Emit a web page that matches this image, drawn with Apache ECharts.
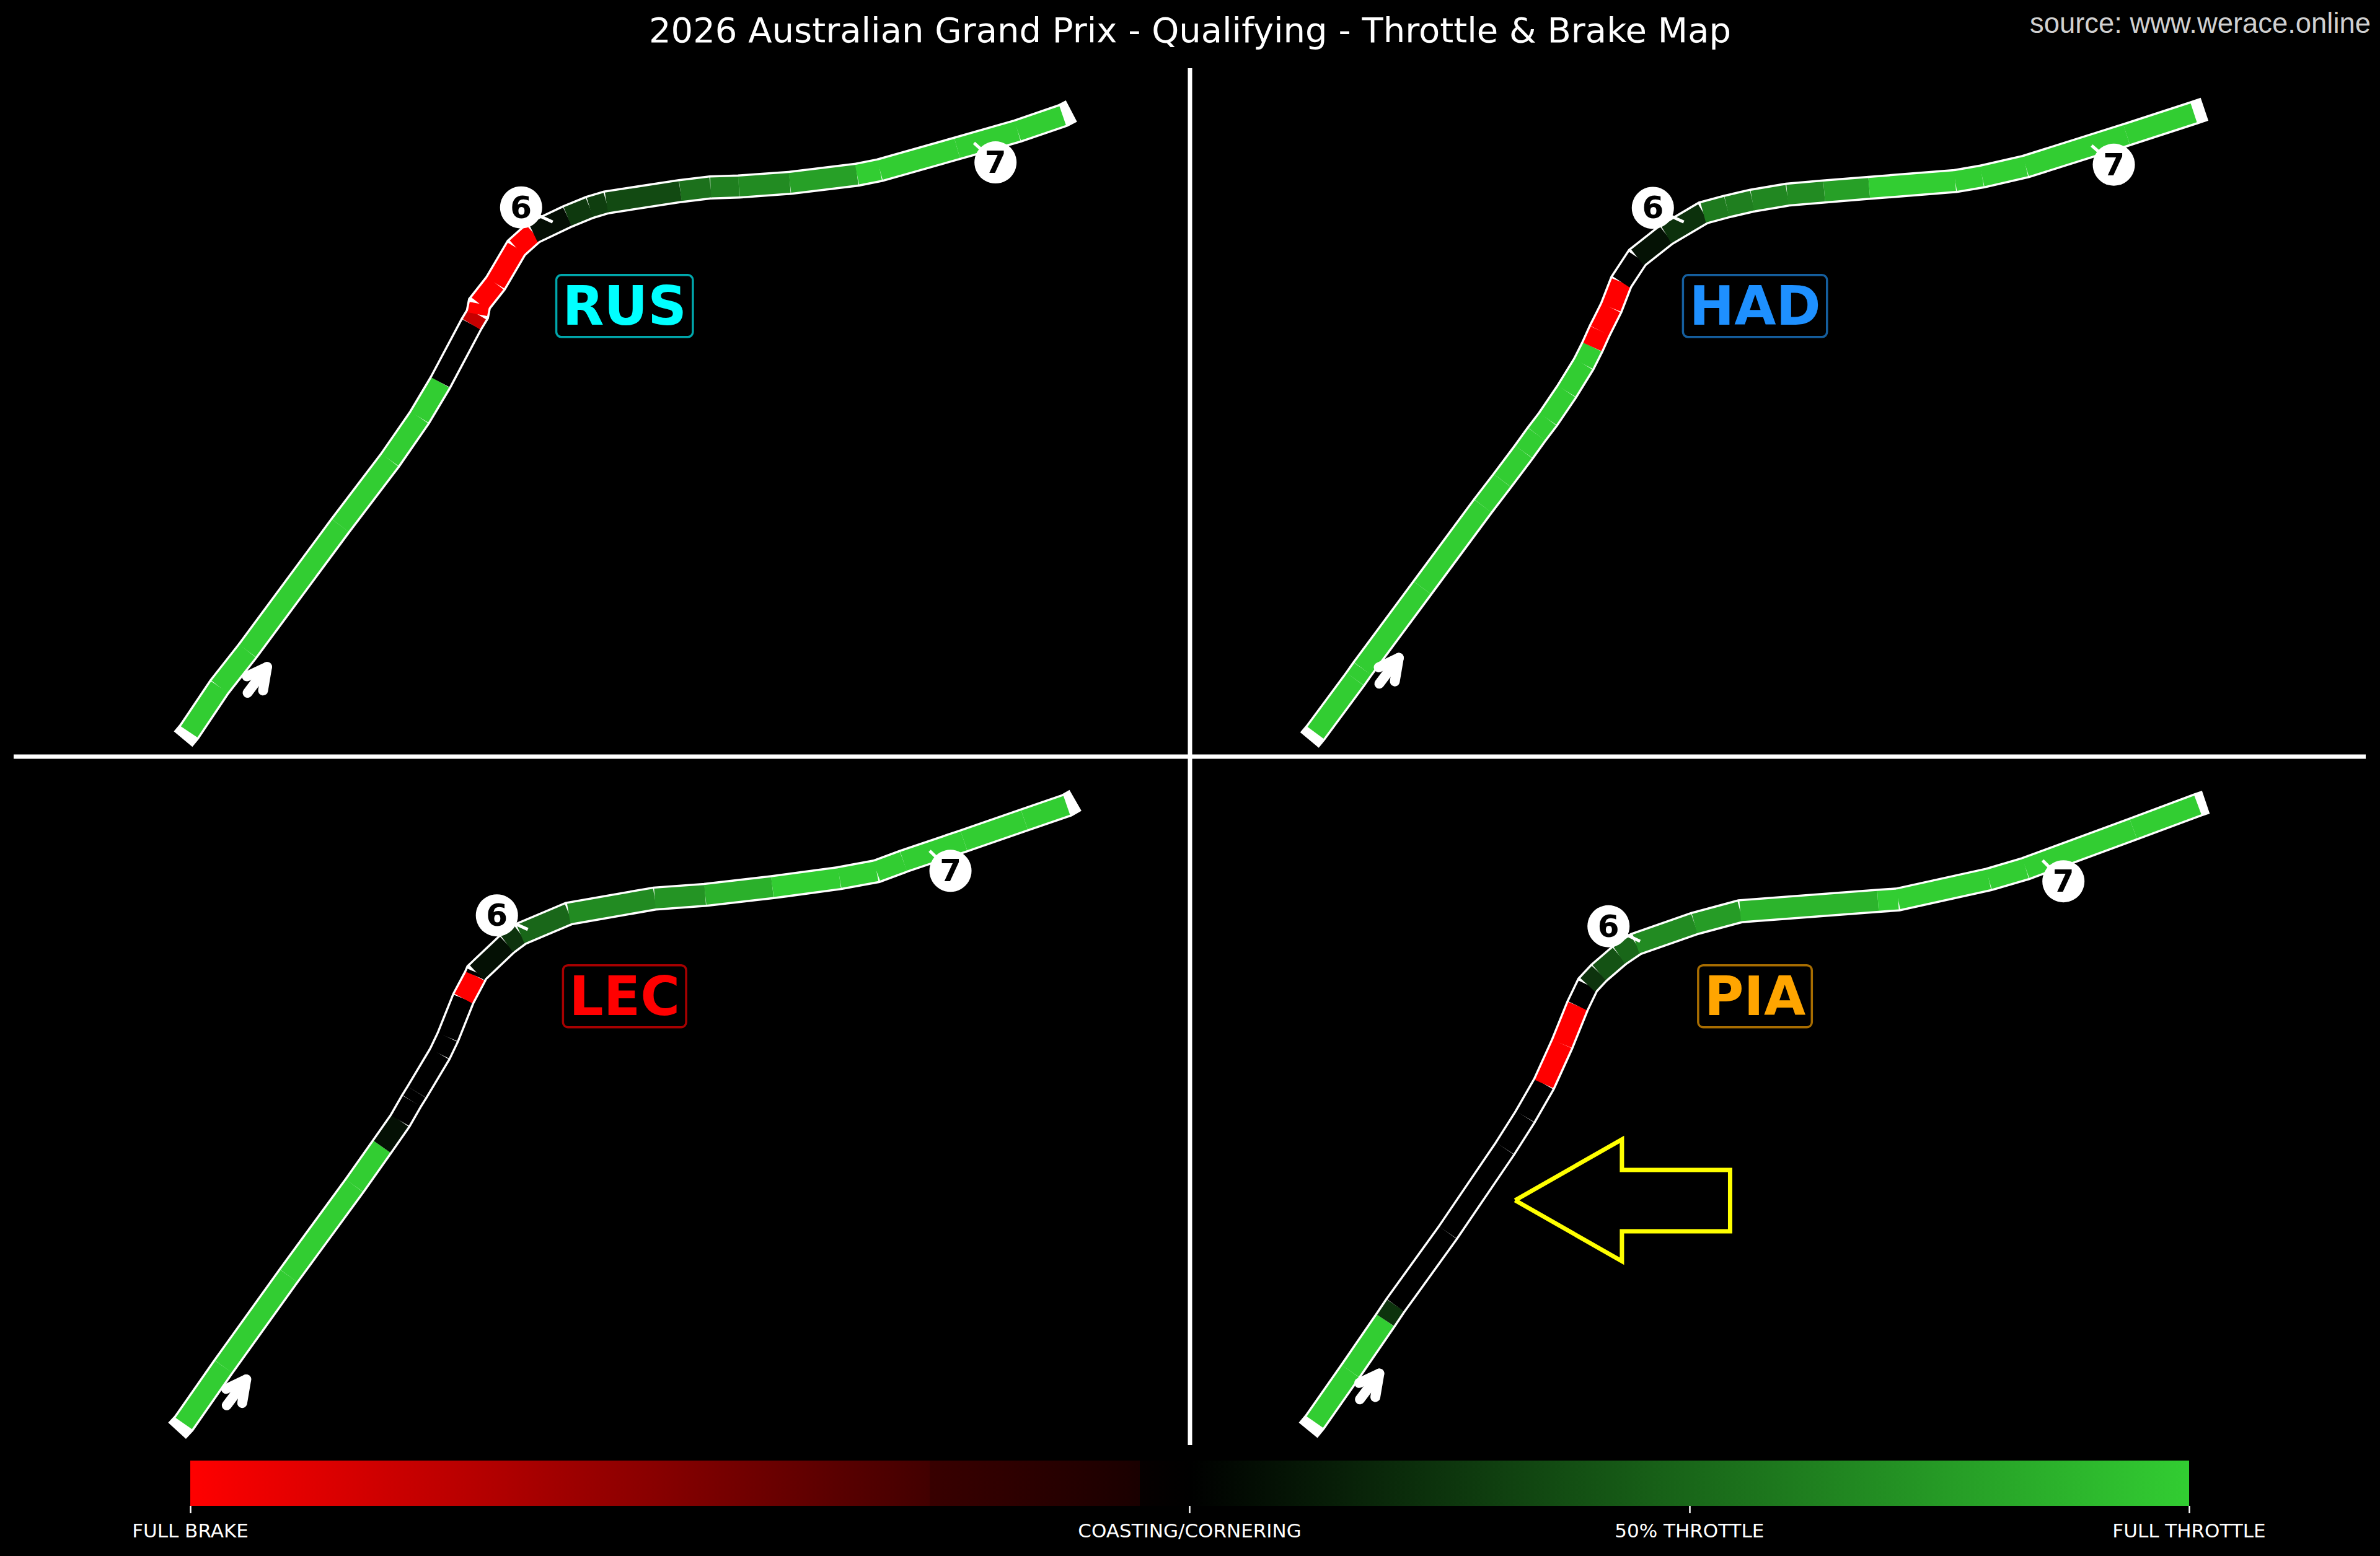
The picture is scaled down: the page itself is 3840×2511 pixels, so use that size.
<!DOCTYPE html>
<html>
<head>
<meta charset="utf-8">
<title>Throttle & Brake Map</title>
<script src="https://cdn.jsdelivr.net/npm/echarts@6/dist/echarts.min.js"></script>
<style>
  html, body { margin: 0; padding: 0; background: #000; }
  #chart { width: 3840px; height: 2511px; }
</style>
</head>
<body>
<div id="chart"></div>
<script>
var driverCodes = ['RUS', 'HAD', 'LEC', 'PIA'];
var driverColors = ['#00ffff', '#1e90ff', '#ff0000', '#ffa500'];
var driverBorders = ['#00a8ad', '#155f9f', '#a80000', '#a86d00'];

// track position, first and last points are the bare white ends
var rusTrack = [[88,1490],[97,1474],[142,1375],[184,1296],[322,1020],[396,876],[440,782],[471,705],[517,577],[526,555],[529,532],[553,487],[584,409],[609,376],[660,340],[693,320],[718,309],[828,284],[873,276],[915,274],[991,266],[1091,248],[1125,238],[1240,190],[1330,152],[1397,118],[1410,108]];
var hadTrack = [[104,1492],[113,1476],[172,1358],[183,1335],[272,1157],[362,977],[391,921],[423,858],[442,819],[459,786],[487,725],[512,665],[525,627],[536,591],[553,541],[568,484],[592,430],[635,380],[690,332],[725,318],[763,305],[815,292],[870,285],[937,277],[1065,262],[1105,252],[1170,230],[1320,160],[1420,112],[1436,104]];
var lecTrack = [[79,1471],[89,1455],[148,1330],[245,1130],[343,932],[384,846],[411,789],[428,745],[436,726],[470,642],[482,605],[505,520],[523,470],[525,463],[570,400],[590,378],[662,333],[790,300],[865,292],[965,275],[1065,255],[1120,240],[1160,218],[1250,173],[1340,127],[1403,95],[1416,84]];
var piaTrack = [[102,1470],[112,1452],[165,1340],[217,1228],[232,1195],[310,1035],[395,850],[425,780],[453,708],[480,620],[503,536],[518,490],[535,463],[565,425],[590,400],[677,355],[745,328],[950,305],[980,302],[1115,258],[1170,234],[1330,147],[1426,94],[1438,88]];

// pedal per stretch: +100 full throttle, 0 coasting, -100 full brake
var rusPedal = [null,100,100,100,100,100,100,0,-78,-100,-100,-100,-100,7,28,30,36,55,62,68,78,100,100,100,100,null];
var hadPedal = [null,100,100,100,100,100,100,100,100,100,100,100,-100,-100,-100,0,9,24,60,62,66,68,78,100,100,100,100,100,null];
var lecPedal = [null,100,100,100,100,8,0,0,0,0,0,-100,0,8,25,50,68,72,86,100,100,100,100,100,100,null];
var piaPedal = [null,100,100,25,0,0,0,0,-100,-100,0,25,40,50,68,76,88,100,100,100,100,100,null];

var turnNames = ['6', '7'];
var rusTurns = [[591,320],[1297,221]];
var hadTurns = [[615,321],[1301,226]];
var lecTurns = [[555,337],[1230,239]];
var piaTurns = [[549,361],[1226,262]];
var rusApex = [[638,352],[1265,178]];
var hadApex = [[661,352],[1268,184]];
var lecApex = [[601,368],[1199,195]];
var piaApex = [[596,394],[1195,216]];

var namePoints = [[745,537],[767,537],[745,515],[767,515]];

// direction arrows: shaft, then the barbs through the tip
var dirShafts = [
  [[184,1388],[213,1331]],
  [[208,1368],[237,1311]],
  [[153,1415],[182,1358]],
  [[179,1402],[208,1345]]
];
var dirBarbs = [
  [[183,1352],[213,1331],[207,1383]],
  [[207,1332],[237,1311],[231,1363]],
  [[152,1379],[182,1358],[176,1410]],
  [[178,1366],[208,1345],[202,1397]]
];

var liftArrow = [[410,964],[569,830],[569,897],[730,897],[730,1032],[569,1032],[569,1098],[410,964]];

var barTickValues = [-100, 0, 50, 100];
var barTickLabels = ['FULL BRAKE', 'COASTING/CORNERING', '50% THROTTLE', 'FULL THROTTLE'];

var tracks = [rusTrack, hadTrack, lecTrack, piaTrack];
var pedals = [rusPedal, hadPedal, lecPedal, piaPedal];
var turns = [rusTurns, hadTurns, lecTurns, piaTurns];
var apexes = [rusApex, hadApex, lecApex, piaApex];

var panelLeft = [200, 2000, 200, 2000];
var panelTop = [100, 100, 1230, 1230];

function pedalColor(v) {
  if (v < 0) {
    return 'rgb(' + Math.round(255 * -v / 100) + ',0,0)';
  }
  return 'rgb(' + Math.round(50 * v / 100) + ',' + Math.round(205 * v / 100) + ',' + Math.round(50 * v / 100) + ')';
}

var grids = [], xAxes = [], yAxes = [], series = [];

driverCodes.forEach(function(code, i) {
  grids.push({ left: panelLeft[i], top: panelTop[i], width: 1700, height: 1150 });
  xAxes.push({ type: 'value', gridIndex: i, min: 0, max: 1568, show: false });
  yAxes.push({ type: 'value', gridIndex: i, min: 0, max: 1568, inverse: true, show: false });
  var axisRef = { xAxisIndex: i, yAxisIndex: i, silent: true };

  // white outline
  series.push(Object.assign({}, axisRef, {
    type: 'line',
    data: tracks[i],
    showSymbol: false,
    clip: false,
    z: 2,
    lineStyle: { color: '#ffffff', width: 39, cap: 'butt', join: 'miter' }
  }));

  // pedal colours on top
  var stretches = [];
  pedals[i].forEach(function(v, k) {
    if (v === null) return;
    stretches.push({
      coords: [tracks[i][k], tracks[i][k + 1]],
      lineStyle: { color: pedalColor(v) }
    });
  });
  series.push(Object.assign({}, axisRef, {
    type: 'lines',
    coordinateSystem: 'cartesian2d',
    data: stretches,
    clip: false,
    z: 3,
    lineStyle: { width: 32, opacity: 1, curveness: 0, cap: 'butt' }
  }));

  // turn leader ticks
  series.push(Object.assign({}, axisRef, {
    type: 'lines',
    coordinateSystem: 'cartesian2d',
    data: turns[i].map(function(t, k) { return { coords: [t, apexes[i][k]] }; }),
    z: 4,
    lineStyle: { color: '#ffffff', width: 5, opacity: 1, curveness: 0 }
  }));

  series.push(Object.assign({}, axisRef, {
    type: 'scatter',
    data: turns[i].map(function(t, k) { return { value: t, name: turnNames[k] }; }),
    symbol: 'circle',
    symbolSize: 68,
    itemStyle: { color: '#ffffff', opacity: 1 },
    label: {
      show: true,
      position: 'inside',
      formatter: '{b}',
      color: '#000000',
      fontFamily: 'DejaVu Sans',
      fontWeight: 'bold',
      fontSize: 50
    },
    z: 5
  }));

  // direction arrow
  series.push(Object.assign({}, axisRef, {
    type: 'lines',
    coordinateSystem: 'cartesian2d',
    polyline: true,
    data: [{ coords: dirShafts[i] }, { coords: dirBarbs[i] }],
    z: 5,
    lineStyle: { color: '#ffffff', width: 16, opacity: 1, curveness: 0, cap: 'round', join: 'round' }
  }));

  // driver tag
  series.push(Object.assign({}, axisRef, {
    type: 'scatter',
    data: [{ value: namePoints[i], name: code }],
    symbolSize: 1,
    itemStyle: { color: 'transparent', opacity: 1 },
    label: {
      show: true,
      position: 'inside',
      formatter: '{b}',
      color: driverColors[i],
      fontFamily: 'DejaVu Sans',
      fontWeight: 'bold',
      fontSize: 87,
      lineHeight: 60,
      padding: [0, 10, 40, 10],
      borderColor: driverBorders[i],
      borderWidth: 3.5,
      borderRadius: 8
    },
    z: 6
  }));
});

// yellow arrow in the PIA panel
series.push({
  type: 'line',
  xAxisIndex: 3,
  yAxisIndex: 3,
  data: liftArrow,
  showSymbol: false,
  silent: true,
  lineStyle: { color: '#ffff00', width: 7, join: 'miter' },
  z: 6
});

// colour bar
grids.push({ left: 307, top: 2357, width: 3225, height: 73 });
xAxes.push({
  type: 'value',
  gridIndex: 4,
  min: -100,
  max: 100,
  axisLine: { show: false },
  splitLine: { show: false },
  axisTick: { show: true, customValues: barTickValues, length: 12, lineStyle: { color: '#ffffff', width: 2.5 } },
  axisLabel: {
    show: true,
    customValues: barTickValues,
    color: '#ffffff',
    fontFamily: 'DejaVu Sans',
    fontSize: 31,
    margin: 24,
    showMinLabel: true,
    showMaxLabel: true,
    hideOverlap: false,
    formatter: function(v) { return barTickLabels[barTickValues.indexOf(v)]; }
  }
});
yAxes.push({ type: 'value', gridIndex: 4, min: 0, max: 1, show: false });
series.push({
  type: 'custom',
  xAxisIndex: 4,
  yAxisIndex: 4,
  silent: true,
  data: [[-100, 100]],
  renderItem: function(params, api) {
    var a = api.coord([api.value(0), 1]);
    var b = api.coord([api.value(1), 0]);
    return {
      type: 'rect',
      shape: { x: a[0], y: a[1], width: b[0] - a[0], height: b[1] - a[1] },
      style: {
        fill: new echarts.graphic.LinearGradient(0, 0, 1, 0, [
          { offset: 0, color: pedalColor(-100) },
          { offset: 0.37, color: pedalColor(-26) },
          { offset: 0.3701, color: 'rgb(56,0,0)' },
          { offset: 0.405, color: pedalColor(-19) },
          { offset: 0.475, color: pedalColor(-10) },
          { offset: 0.4751, color: 'rgb(6,0,0)' },
          { offset: 0.5, color: '#000000' },
          { offset: 1, color: pedalColor(100) }
        ])
      }
    };
  }
});

var chart = echarts.init(document.getElementById('chart'), null, { renderer: 'svg' });
chart.setOption({
  animation: false,
  backgroundColor: '#000000',
  title: [
    {
      text: '2026 Australian Grand Prix - Qualifying - Throttle & Brake Map',
      left: 'center',
      top: 15,
      textStyle: { color: '#ffffff', fontFamily: 'DejaVu Sans', fontWeight: 'normal', fontSize: 56 }
    },
    {
      text: 'source: www.werace.online',
      right: 10,
      top: 10,
      textStyle: { color: '#d0d0d0', fontFamily: 'Liberation Sans', fontWeight: 'normal', fontSize: 45.4 }
    }
  ],
  grid: grids,
  xAxis: xAxes,
  yAxis: yAxes,
  series: series,
  graphic: [
    { type: 'line', silent: true, z: 1, shape: { x1: 1920, y1: 110, x2: 1920, y2: 2332 }, style: { stroke: '#ffffff', lineWidth: 7 } },
    { type: 'line', silent: true, z: 1, shape: { x1: 22, y1: 1221, x2: 3817, y2: 1221 }, style: { stroke: '#ffffff', lineWidth: 7 } }
  ]
});
window.addEventListener('resize', function() { chart.resize(); });
</script>
</body>
</html>
